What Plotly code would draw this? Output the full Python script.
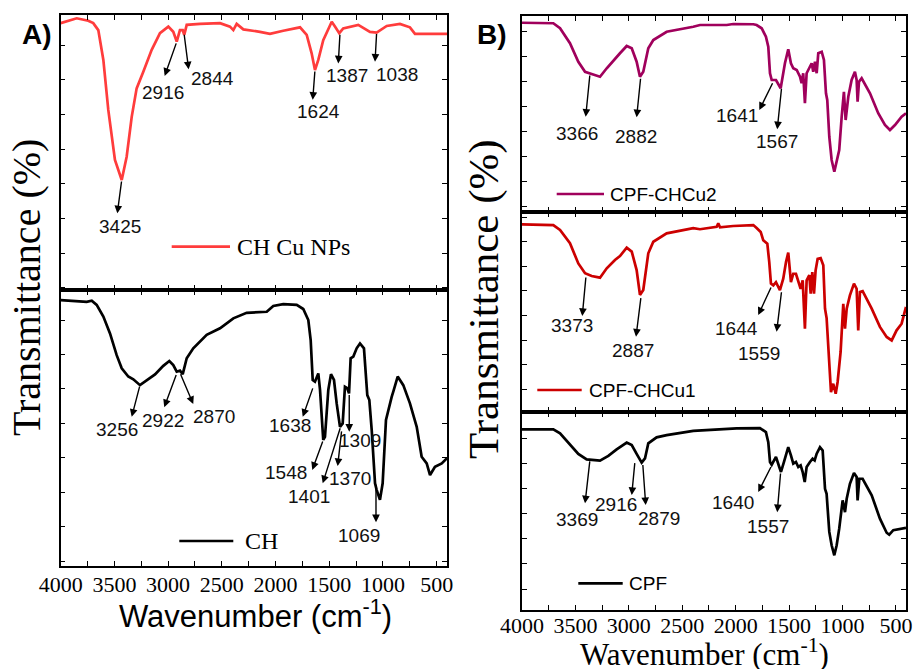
import plotly.graph_objects as go

# ---------------- data (wavenumber in cm-1, transmittance in a.u.) ----------------
ch_cu_wn = [4000, 3851, 3743, 3697, 3650, 3603, 3557, 3495, 3432, 3386, 3339, 3293, 3231, 3153, 3076,
            2998, 2952, 2920, 2890, 2864, 2850, 2827, 2703, 2517, 2424, 2393, 2362, 2300, 2145, 2052,
            1928, 1772, 1710, 1664, 1633, 1602, 1556, 1509, 1477, 1447, 1407, 1370, 1230, 1121, 1059,
            965, 842, 749, 702, 404]
ch_cu_t = [76.9, 78.3, 77.6, 76.9, 74.9, 66.3, 51.9, 37.5, 31.7, 38.4, 49.9, 58.1, 62.9, 69.2, 74.0,
           75.9, 74.4, 71.6, 74.9, 74.9, 73.5, 76.4, 76.7, 76.9, 75.9, 74.9, 76.7, 75.1, 74.4, 73.8,
           74.7, 75.7, 73.5, 68.2, 63.4, 66.3, 72.0, 75.4, 77.3, 75.9, 74.0, 75.4, 76.4, 74.4, 74.2,
           76.1, 76.7, 75.7, 73.8, 73.8]

ch_wn = [4000, 3758, 3711, 3665, 3603, 3541, 3479, 3432, 3371, 3324, 3262, 3199, 3122, 3045, 2989,
         2952, 2920, 2890, 2864, 2827, 2766, 2641, 2517, 2393, 2269, 2082, 2021, 1928, 1803, 1742,
         1695, 1673, 1654, 1633, 1602, 1586, 1556, 1540, 1509, 1484, 1456, 1431, 1400, 1375, 1354,
         1332, 1316, 1301, 1276, 1245, 1214, 1177, 1158, 1146, 1127, 1105, 1074, 1059, 1028, 1003,
         972, 951, 919, 904, 863, 811, 749, 686, 640, 593, 562, 516, 453, 404]
ch_t = [77.2, 76.7, 77.0, 75.8, 72.4, 67.5, 61.2, 57.4, 55.0, 54.2, 52.5, 54.0, 55.6, 58.1, 59.5,
        58.3, 56.4, 56.7, 55.7, 60.3, 63.2, 67.1, 69.0, 71.9, 73.5, 73.8, 75.5, 76.0, 75.8, 74.6,
        71.4, 65.6, 54.0, 53.5, 55.9, 51.1, 36.6, 37.5, 51.1, 55.7, 54.0, 47.2, 40.4, 41.4, 52.0,
        51.6, 50.1, 60.3, 60.8, 63.2, 64.6, 63.2, 53.0, 49.6, 48.2, 39.5, 24.0, 22.1, 19.2, 24.0,
        42.4, 45.3, 49.1, 50.6, 55.0, 52.5, 47.2, 40.4, 31.7, 29.8, 26.4, 28.8, 29.8, 31.3]

cu2_wn = [4000, 3707, 3644, 3551, 3473, 3410, 3348, 3270, 3207, 3130, 3083, 3020, 2973, 2927, 2896,
          2865, 2818, 2771, 2646, 2397, 2334, 2084, 2023, 1835, 1804, 1757, 1717, 1695, 1679, 1663,
          1623, 1579, 1539, 1508, 1483, 1461, 1429, 1398, 1383, 1368, 1352, 1336, 1311, 1289, 1274,
          1258, 1242, 1227, 1195, 1174, 1155, 1143, 1124, 1102, 1077, 1055, 1031, 1008, 987, 971,
          946, 915, 884, 868, 859, 846, 821, 743, 666, 603, 556, 509, 447, 406]
cu2_t = [75.7, 75.5, 73.5, 67.5, 60.1, 56.1, 55.2, 54.1, 57.5, 61.5, 63.5, 66.4, 65.5, 60.1, 54.1,
         56.1, 65.5, 68.8, 72.1, 74.1, 74.8, 74.8, 75.2, 75.1, 74.8, 73.5, 70.1, 66.1, 55.5, 52.8,
         52.8, 49.5, 59.5, 65.1, 59.5, 57.5, 56.8, 54.1, 51.5, 55.5, 43.5, 55.5, 57.5, 59.5, 56.1,
         60.1, 55.5, 63.5, 64.1, 60.8, 47.5, 44.8, 30.1, 20.8, 16.1, 20.1, 24.8, 38.1, 48.1, 36.8,
         46.1, 52.8, 56.1, 52.8, 44.1, 52.1, 53.5, 47.5, 39.5, 34.8, 32.8, 34.8, 38.1, 39.5]

cu1_wn = [4000, 3707, 3644, 3551, 3473, 3410, 3348, 3270, 3207, 3130, 3083, 3020, 2973, 2927, 2896,
          2865, 2818, 2771, 2646, 2397, 2334, 2178, 2163, 2147, 2023, 1835, 1804, 1766, 1742, 1704,
          1686, 1670, 1648, 1623, 1586, 1555, 1529, 1508, 1483, 1461, 1436, 1414, 1392, 1373, 1352,
          1336, 1311, 1298, 1283, 1267, 1252, 1233, 1205, 1180, 1164, 1149, 1124, 1108, 1087, 1064,
          1046, 1018, 993, 977, 961, 931, 893, 868, 853, 837, 812, 727, 650, 587, 540, 494, 447, 406]
cu1_t = [76.3, 76.0, 74.0, 68.6, 60.4, 56.4, 55.3, 54.6, 58.4, 61.8, 63.4, 66.8, 65.2, 57.7, 47.6,
         49.6, 64.5, 69.2, 72.6, 74.7, 74.3, 75.3, 76.7, 75.1, 75.6, 76.0, 74.8, 73.2, 69.8, 68.4,
         61.0, 52.2, 51.5, 52.8, 49.5, 54.2, 61.0, 64.8, 52.8, 56.2, 56.2, 53.5, 50.1, 53.5, 33.9,
         53.5, 55.6, 48.1, 56.9, 48.1, 57.6, 62.3, 62.6, 59.6, 42.0, 38.2, 19.0, 8.1, 11.5, 7.4,
         12.2, 24.4, 44.0, 33.9, 42.0, 47.4, 52.2, 50.1, 33.2, 48.8, 49.1, 42.0, 34.6, 30.5, 29.1,
         33.2, 35.9, 42.7]

cpf_wn = [4000, 3707, 3644, 3551, 3473, 3395, 3348, 3270, 3192, 3114, 3020, 2973, 2927, 2880, 2849,
          2818, 2740, 2646, 2397, 2084, 1991, 1773, 1717, 1695, 1679, 1663, 1623, 1592, 1576, 1548,
          1508, 1483, 1461, 1436, 1414, 1392, 1373, 1354, 1336, 1305, 1280, 1261, 1242, 1211, 1186,
          1164, 1149, 1124, 1102, 1077, 1055, 1031, 999, 977, 961, 931, 893, 868, 859, 843,
          812, 727, 650, 587, 563, 525, 463, 406]
cpf_t = [72.0, 72.0, 70.4, 65.7, 62.2, 60.0, 59.8, 59.5, 61.4, 64.0, 66.7, 65.7, 62.2, 58.7, 60.4,
         66.4, 68.8, 69.7, 71.4, 72.0, 72.4, 72.5, 70.9, 66.9, 59.0, 57.9, 61.0, 57.0, 55.0, 59.0,
         64.9, 61.6, 58.3, 59.0, 57.0, 57.6, 55.0, 51.0, 57.0, 59.0, 60.3, 59.6, 62.3, 64.9, 63.6,
         48.3, 46.3, 31.1, 25.8, 21.8, 25.8, 32.4, 43.7, 39.0, 44.3, 50.3, 54.6, 53.0, 43.7, 52.3,
         52.3, 45.7, 36.4, 30.8, 30.0, 31.8, 32.4, 32.7]

x_tick_vals = list(range(4000, 499, -250))
x_tick_text = [str(v) if v % 500 == 0 else "" for v in x_tick_vals]

# peak labels: (label, peak wn, peak T, arrow-head wn, arrow-head T, label wn, label T)
ch_cu_peaks = [("3425", 3432, 31.7, 3473, 22.1, 3448, 18.4),
               ("2916", 2920, 71.5, 3032, 61.7, 3045, 56.9),
               ("2844", 2852, 74.0, 2809, 63.6, 2585, 61.0),
               ("1624", 1633, 63.4, 1654, 54.8, 1602, 51.4),
               ("1387", 1400, 74.0, 1416, 65.3, 1338, 61.7),
               ("1038", 1059, 74.2, 1074, 65.8, 872, 62.2)]
ch_peaks = [("3256", 3262, 52.5, 3339, 43.3, 3473, 39.5),
            ("2922", 2920, 55.9, 3036, 46.1, 3051, 42.1),
            ("2870", 2890, 56.1, 2766, 47.0, 2573, 43.5),
            ("1638", 1649, 52.0, 1747, 43.3, 1866, 40.9),
            ("1548", 1556, 36.6, 1658, 27.9, 1903, 27.1),
            ("1401", 1394, 40.4, 1561, 24.0, 1686, 20.1),
            ("1370", 1384, 39.5, 1422, 29.0, 1307, 25.5),
            ("1309", 1314, 50.1, 1314, 39.0, 1214, 36.4),
            ("1069", 1065, 24.0, 1065, 12.7, 1221, 9.0)]
cu2_peaks = [("3366", 3364, 55.2, 3404, 38.1, 3488, 31.5),
             ("2882", 2889, 53.9, 2927, 37.9, 2936, 30.4),
             ("1641", 1648, 52.1, 1779, 40.8, 1991, 38.8),
             ("1567", 1570, 49.9, 1611, 33.1, 1617, 28.4)]
cu1_peaks = [("3373", 3401, 55.3, 3436, 39.0, 3535, 35.0),
             ("2887", 2886, 46.9, 2933, 30.6, 2964, 25.2),
             ("1644", 1663, 51.2, 1789, 39.4, 1997, 34.0),
             ("1559", 1570, 49.3, 1617, 32.6, 1779, 23.9)]
cpf_peaks = [("3369", 3364, 59.8, 3410, 42.5, 3488, 35.9),
             ("2916", 2943, 59.1, 2973, 45.8, 3120, 42.2),
             ("2879", 2870, 58.4, 2842, 41.8, 2715, 36.3),
             ("1640", 1663, 57.6, 1789, 47.0, 2028, 43.0),
             ("1557", 1579, 55.0, 1611, 39.0, 1695, 33.3)]

# ---------------- layout helpers ----------------
W, H = 913, 669
SERIF = "Liberation Serif, Times New Roman, serif"
SANS = "Liberation Sans, Arial, sans-serif"


def px(x):
    return x / W


def py(y):
    return 1 - y / H


panels = [
    ("CH Cu NPs", ch_cu_wn, ch_cu_t, ch_cu_peaks, "#FF3C3C", SERIF, 24, (171.7, 230, 246.7, 235),
     "", (60.7, 447), (15, 290), 79.25, 0.58, 404, False, 0),
    ("CH", ch_wn, ch_t, ch_peaks, "#000000", SERIF, 24, (179.3, 233.3, 541, 242.7),
     "2", (60.7, 447), (290, 566), 80.12, 1.39, 404, True, -2),
    ("CPF-CHCu2", cu2_wn, cu2_t, cu2_peaks, "#A0005C", SANS, 19, (556.7, 604, 194, 607.7),
     "3", (522, 906), (16, 212), 78.4, 2.12, 406, False, 0),
    ("CPF-CHCu1", cu1_wn, cu1_t, cu1_peaks, "#CC0000", SANS, 19, (537.3, 581.7, 390, 586.7),
     "4", (522, 906), (212, 412), 81.3, 9.23, 406, False, 0),
    ("CPF", cpf_wn, cpf_t, cpf_peaks, "#000000", SANS, 19, (578.3, 622.7, 583.3, 626.7),
     "5", (522, 906), (412, 610), 78.9, 8.37, 406, True, -5),
]

fig = go.Figure()
annotations = []
shapes = []
layout = {}

for (name, wn, t, peaks, color, lfont, lsize, leg, sfx, xdom, ydom, ymax, tick0,
     xend, show_labels, standoff) in panels:
    xa, ya = "x" + sfx, "y" + sfx
    fig.add_trace(go.Scatter(x=wn, y=t, mode="lines", name=name, xaxis=xa, yaxis=ya,
                             line=dict(color=color, width=2.7), showlegend=False))
    common = dict(showline=True, linecolor="black", linewidth=1.5, mirror="ticks",
                  ticks="inside", ticklen=5, tickwidth=1.3, tickcolor="black",
                  showgrid=False, zeroline=False, automargin=False)
    layout["xaxis" + sfx] = dict(
        common, domain=[px(xdom[0]), px(xdom[1])], anchor=ya, range=[4000, xend],
        tickmode="array", tickvals=x_tick_vals, ticktext=x_tick_text,
        showticklabels=show_labels, ticklabelstandoff=standoff,
        tickfont=dict(family=SERIF, size=22, color="black"))
    layout["yaxis" + sfx] = dict(
        common, domain=[py(ydom[1]), py(ydom[0])], anchor=xa, range=[0, ymax],
        tick0=tick0, dtick=10, showticklabels=False)
    for lab, pw, pt, hw, ht, lw, lt in peaks:
        annotations.append(dict(x=hw, y=ht, ax=pw, ay=pt, xref=xa, yref=ya, axref=xa, ayref=ya,
                                text="", showarrow=True, arrowhead=2, arrowsize=1.1,
                                arrowwidth=1.4, arrowcolor="black", standoff=0, startstandoff=0))
        annotations.append(dict(x=lw, y=lt, xref=xa, yref=ya, text=lab, showarrow=False,
                                xanchor="center", yanchor="middle",
                                font=dict(family=SANS, size=19, color="#111111")))
    shapes.append(dict(type="line", xref="paper", yref="paper", x0=px(leg[0]), x1=px(leg[1]),
                       y0=py(leg[2]), y1=py(leg[2]), line=dict(color=color, width=2.7)))
    annotations.append(dict(x=px(leg[3]), y=py(leg[2]), xref="paper", yref="paper", text=name,
                            showarrow=False, xanchor="left", yanchor="middle",
                            font=dict(family=lfont, size=lsize, color="black")))

titles = [
    ("Transmittance (%)", 26, 288, SERIF, 40, -90),
    ("Transmittance (%)", 484, 299, SERIF, 43, -90),
    ("Wavenumber (cm<sup>-1</sup>)", 255, 614, SANS, 31, 0),
    ("Wavenumber (cm<sup>-1</sup>)", 704, 652, SERIF, 31, 0),
    ("<b>A)</b>", 37, 35, SANS, 28, 0),
    ("<b>B)</b>", 492, 35, SANS, 28, 0),
]
for text, tx, ty, fam, size, ang in titles:
    annotations.append(dict(x=px(tx), y=py(ty), xref="paper", yref="paper", text=text,
                            textangle=ang, showarrow=False, xanchor="center", yanchor="middle",
                            font=dict(family=fam, size=size, color="black")))

fig.update_layout(width=W, height=H, margin=dict(l=0, r=0, t=0, b=0, pad=0),
                  paper_bgcolor="white", plot_bgcolor="white",
                  annotations=annotations, shapes=shapes, **layout)

fig.write_html("out.html", config={"displayModeBar": False},
               post_script="document.body.style.margin='0px';document.body.style.padding='0px';")
